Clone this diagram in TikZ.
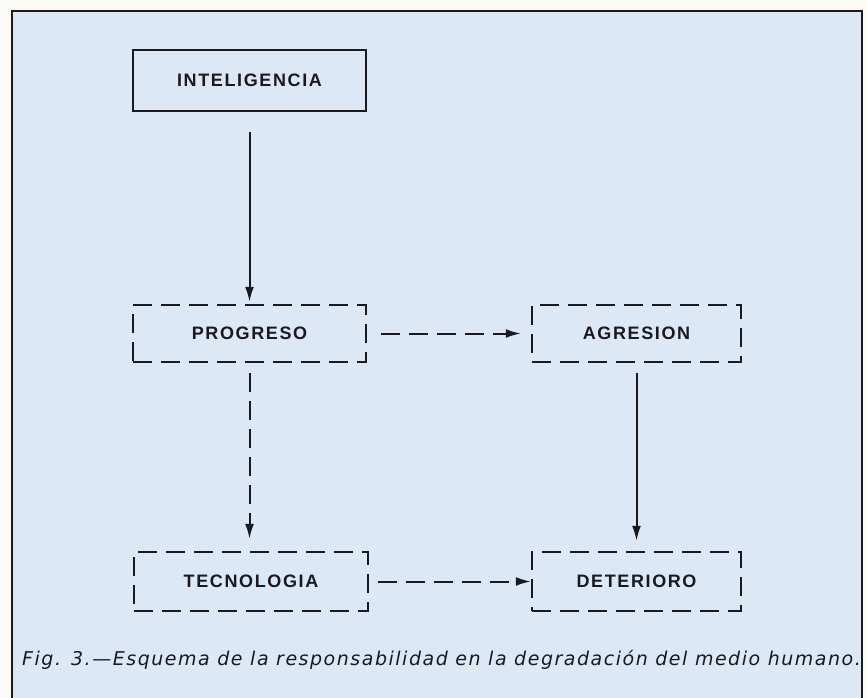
\documentclass[tikz,border=0pt]{standalone}
\usepackage{fontspec}
\setmainfont{Liberation Sans}
\usetikzlibrary{arrows.meta}
\definecolor{paper}{RGB}{251,250,244}
\definecolor{sky}{RGB}{221,232,247}
\definecolor{ink}{RGB}{25,25,30}
\newfontfamily\boxfont[LetterSpace=9]{Liberation Sans}
\newfontfamily\captfont[LetterSpace=8]{DejaVu Sans}
\begin{document}
\begin{tikzpicture}[x=1pt,y=-1pt,
    box/.style={draw=ink,line width=2.4pt,font=\boxfont\bfseries\fontsize{18}{20}\selectfont,
      text=ink,inner sep=0pt},
    dbox/.style={box,dash pattern=on 19pt off 9pt},
    link/.style={draw=ink,line width=2pt,-{Latex[length=15pt,width=9pt]}},
    dlink/.style={link,dash pattern=on 19pt off 9pt}]
  % page and frame
  \fill[paper] (0,0) rectangle (867,697);
  \useasboundingbox (0,0) rectangle (867,697);
  \filldraw[fill=sky,draw=ink,line width=2pt] (12,710) -- (12,11) -- (862,11)
    -- (862,710);
  % boxes
  \node[box,minimum width=233pt,minimum height=61pt] (intel) at (249.5,80.5)
    {INTELIGENCIA};
  \node[dbox,minimum width=233pt,minimum height=57pt] (prog) at (249.5,333.5)
    {PROGRESO};
  \node[dbox,minimum width=209pt,minimum height=57pt] (agre) at (636.5,333.5)
    {AGRESION};
  \node[dbox,minimum width=234pt,minimum height=59pt] (tecno) at (251,581.5)
    {TECNOLOGIA};
  \node[dbox,minimum width=209pt,minimum height=59pt] (deter) at (636.5,581.5)
    {DETERIORO};
  % arrows
  \draw[link,shorten <=20pt,shorten >=2pt] (intel) -- (prog);
  \draw[dlink,shorten <=10pt,shorten >=12pt] (prog.south) -- (prog.south |- tecno.north);
  \draw[link,shorten <=10pt,shorten >=10pt] (agre) -- (deter);
  \draw[dlink,shorten <=14pt,shorten >=10pt] (prog) -- (agre);
  \draw[dlink,shorten <=9pt] (tecno) -- (deter);
  % caption
  \node[anchor=base west,inner sep=0pt,text=ink,font=\captfont\itshape\fontsize{19}{21}\selectfont]
    (capt) at (22,665) {Fig. 3.—Esquema de la responsabilidad en la degradación del medio humano.};
\end{tikzpicture}
\end{document}
